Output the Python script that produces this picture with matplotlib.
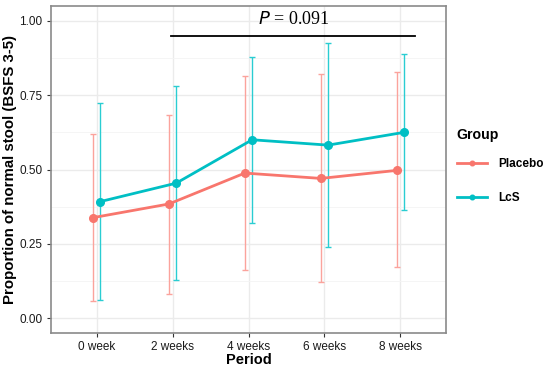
import matplotlib
matplotlib.use("Agg")
import matplotlib.pyplot as plt
from matplotlib.ticker import MultipleLocator
import numpy as np

periods = ["0 week", "2 weeks", "4 weeks", "6 weeks", "8 weeks"]
groups = ["Placebo", "LcS"]
placebo_mean = [0.338, 0.384, 0.488, 0.470, 0.497]
placebo_low = [0.056, 0.082, 0.163, 0.121, 0.171]
placebo_high = [0.618, 0.685, 0.815, 0.821, 0.827]
lcs_mean = [0.392, 0.454, 0.600, 0.582, 0.625]
lcs_low = [0.061, 0.128, 0.320, 0.240, 0.363]
lcs_high = [0.723, 0.782, 0.879, 0.926, 0.887]
p_text = "0.091"

colors = {"Placebo": "#F8766D", "LcS": "#00BFC4"}
err_colors = {"Placebo": "#FBA39C", "LcS": "#2ACDD2"}

plt.rcParams["font.family"] = ["Liberation Sans", "DejaVu Sans"]
fig = plt.figure(figsize=(5.5, 3.68), dpi=100)
ax = fig.add_axes([51/550, 1-333/368, (446-51)/550, (333-6)/368])

x = np.arange(len(periods))
dodge = 0.048
series = {
    "Placebo": (placebo_mean, placebo_low, placebo_high, -dodge),
    "LcS": (lcs_mean, lcs_low, lcs_high, dodge),
}
for g in groups:
    m, lo, hi, off = series[g]
    m = np.array(m); lo = np.array(lo); hi = np.array(hi)
    xs = x + off
    ax.errorbar(xs, m, yerr=[m - lo, hi - m], fmt="none", ecolor=err_colors[g],
                elinewidth=1.0, capsize=2, capthick=1.0, zorder=2)
for g in groups:
    m, lo, hi, off = series[g]
    ax.plot(x + off, m, color=colors[g], lw=2, marker="o", ms=5.5, label=g, zorder=3)

ax.set_xlim(-0.6, 4.6)
ax.set_ylim(-0.05, 1.05)
ax.set_xticks(x)
ax.set_xticklabels(periods)
ax.yaxis.set_minor_locator(MultipleLocator(0.125))
ax.set_yticks([0, 0.25, 0.5, 0.75, 1.0])
ax.set_yticklabels(["0.00", "0.25", "0.50", "0.75", "1.00"])
ax.grid(True, which="major", color="#EBEBEB", lw=1.0, zorder=0)
ax.grid(True, which="minor", axis="y", color="#F4F4F4", lw=0.6, zorder=0)
ax.set_axisbelow(True)
ax.tick_params(axis="both", which="major", labelsize=8.5, colors="#333333", length=3, width=0.8,
               labelcolor="#1a1a1a", pad=3)
ax.tick_params(axis="both", which="minor", length=0)
for s in ax.spines.values():
    s.set_color("#8a8a8a")
    s.set_linewidth(1.2)

ax.set_xlabel("Period", fontsize=10.5, fontweight="bold", labelpad=0)
ax.set_ylabel("Proportion of normal stool (BSFS 3-5)", fontsize=10.8, fontweight="bold", labelpad=2)

# significance bar
ax.plot([0.98, 4.19], [0.948, 0.948], color="black", lw=1.3, zorder=4)
ax.text(2.6, 1.006, "$\\it{P}$ = " + p_text, ha="center", va="center",
        fontsize=13, family=["Liberation Serif", "DejaVu Serif"], zorder=5)

leg = fig.legend(loc="upper left", bbox_to_anchor=(452/550, 1-123/368), frameon=False,
                 title="Group", fontsize=8.5, handlelength=2.6, labelspacing=1.8,
                 handletextpad=0.9, borderaxespad=0, markerscale=0.6)
leg.get_title().set_fontweight("bold")
leg.get_title().set_fontsize(10.2)
leg._legend_box.align = "left"
leg._legend_box.sep = 12
for t in leg.get_texts():
    t.set_fontweight("bold")

fig.savefig("out.png", dpi=100)
